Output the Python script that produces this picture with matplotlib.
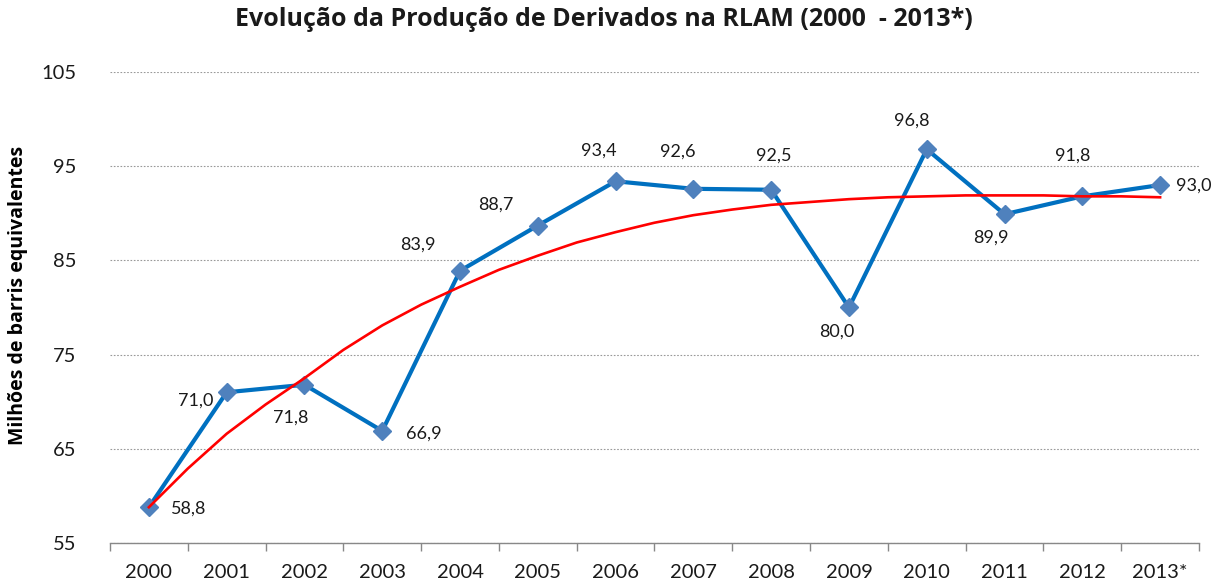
import matplotlib
matplotlib.use("Agg")
import matplotlib.pyplot as plt
from matplotlib.ticker import FixedLocator

years = ["2000", "2001", "2002", "2003", "2004", "2005", "2006",
         "2007", "2008", "2009", "2010", "2011", "2012", "2013*"]
production = [58.8, 71.0, 71.8, 66.9, 83.9, 88.7, 93.4,
              92.6, 92.5, 80.0, 96.8, 89.9, 91.8, 93.0]
value_labels = ["58,8", "71,0", "71,8", "66,9", "83,9", "88,7", "93,4",
                "92,6", "92,5", "80,0", "96,8", "89,9", "91,8", "93,0"]

# trend line (half-year steps)
trend_x = [0, 0.5, 1, 1.5, 2, 2.5, 3, 3.5, 4, 4.5, 5, 5.5, 6, 6.5,
           7, 7.5, 8, 8.5, 9, 9.5, 10, 10.5, 11, 11.5, 12, 12.5, 13]
trend_y = [58.8, 62.9, 66.6, 69.7, 72.5, 75.5, 78.1, 80.3, 82.2, 84.0,
           85.5, 86.9, 88.0, 89.0, 89.8, 90.4, 90.9, 91.2, 91.5, 91.7,
           91.8, 91.9, 91.9, 91.9, 91.8, 91.8, 91.7]

y_ticks = [55, 65, 75, 85, 95, 105]

# label offsets in pixels (dx, dy up) relative to each marker
label_offsets = [(40, -1), (-31, -8), (-14, -33), (42, -3), (-42, 26), (-42, 21),
                 (-17, 31), (-16, 37), (3, 34), (-12, -24), (-15, 29), (-14, -23),
                 (-10, 41), (34, -1)]

plt.rcParams['font.family'] = ['Lato', 'DejaVu Sans']

fig = plt.figure(figsize=(12.2, 5.85), dpi=100)
ax = fig.add_axes([110/1220, 1 - 543/585, (1199 - 110)/1220, (543 - 72)/585])

x = list(range(len(years)))
ax.plot(x, production, color="#0070C0", lw=3.0, marker="D", markersize=9,
        markerfacecolor="#4F81BD", markeredgecolor="#4F81BD", zorder=3)
ax.plot(trend_x, trend_y, color="#FF0000", lw=1.9, zorder=4)

for xi, yi, lab, (dx, dy) in zip(x, production, value_labels, label_offsets):
    ax.annotate(lab, (xi, yi), xytext=(dx * 0.72, dy * 0.72), textcoords="offset points",
                ha="center", va="center", fontsize=13, color="#1a1a1a", zorder=5)

ax.set_xlim(-0.5, len(years) - 0.5)
ax.set_ylim(55, 105)
ax.set_yticks(y_ticks)
ax.set_yticklabels([str(v) for v in y_ticks], fontsize=14.5, color="#1a1a1a")
ax.tick_params(axis="y", length=0, pad=24)

ax.set_xticks(x)
ax.set_xticklabels(years, fontsize=14.5, color="#1a1a1a")
ax.tick_params(axis="x", which="major", length=0, pad=15)
ax.xaxis.set_minor_locator(FixedLocator([i - 0.5 for i in range(len(years) + 1)]))
ax.tick_params(axis="x", which="minor", length=6, color="#888888", width=1)

ax.grid(axis="y", linestyle=(0, (1.5, 1.5)), color="#999999", lw=0.8)
ax.set_axisbelow(True)
for s in ["top", "right", "left"]:
    ax.spines[s].set_visible(False)
ax.spines["bottom"].set_color("#888888")
ax.spines["bottom"].set_linewidth(1.0)

fig.text(604/1220, 1 - 20/585, "Evolução da Produção de Derivados na RLAM (2000  - 2013*)",
         ha="center", va="center", fontsize=18, fontweight="bold", color="#1a1a1a",
         family=["Open Sans", "DejaVu Sans"])
fig.text(18/1220, 1 - 295/585, "Milhões de barris equivalentes", rotation=90,
         ha="center", va="center", fontsize=14, fontweight="bold", color="#000000",
         family=["Open Sans", "DejaVu Sans"])

fig.savefig("out.png", dpi=100)
